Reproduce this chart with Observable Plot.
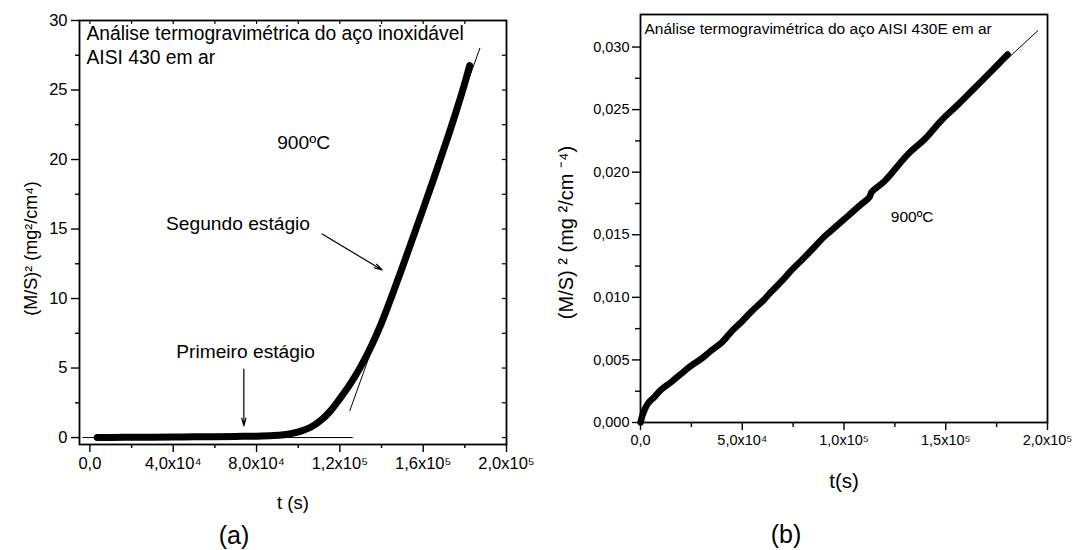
<!DOCTYPE html>
<html>
<head>
<meta charset="utf-8">
<script src="https://cdn.jsdelivr.net/npm/d3@7"></script>
<script src="https://cdn.jsdelivr.net/npm/@observablehq/plot@0.6"></script>
<style>
  body { margin: 0; background: #fff; }
  #wrap { position: relative; width: 1074px; height: 550px; overflow: hidden; background: #fff; }
  #pa, #pb { position: absolute; top: 0; }
  #pa { left: 0; }
  #pb { left: 530px; }
  #wrap svg { overflow: visible; }
</style>
</head>
<body>
<div id="wrap"><div id="pa"></div><div id="pb"></div></div>
<script>
// ---------- Panel (a): AISI 430 ----------
const tA = [3500, 10000, 20000, 30000, 40000, 50000, 60000, 70000, 80000, 88000, 93000, 97000, 101000, 106000, 111000, 115600, 120000, 125000, 130000, 135000, 140000, 145000, 150000, 155000, 160000, 165000, 170000, 174000, 178000, 180000, 182300];
const vA = [0.00, 0.01, 0.02, 0.03, 0.04, 0.05, 0.06, 0.08, 0.10, 0.14, 0.20, 0.30, 0.45, 0.74, 1.25, 1.94, 2.80, 3.86, 5.10, 6.55, 8.25, 10.2, 12.25, 14.35, 16.45, 18.6, 20.8, 22.6, 24.5, 25.5, 26.75];
const tangentTA = [124800, 187200];
const tangentVA = [1.94, 28.0];
const baseTA = [-3400, 126000];
const baseVA = [0, 0];

const xTicksA = [0, 40000, 80000, 120000, 160000, 200000];
const xTickLabelsA = ["0,0", "4,0x10⁴", "8,0x10⁴", "1,2x10⁵", "1,6x10⁵", "2,0x10⁵"];
const xMinorA = [20000, 60000, 100000, 140000, 180000];
const yTicksA = [0, 5, 10, 15, 20, 25, 30];
const yTickLabelsA = ["0", "5", "10", "15", "20", "25", "30"];
const yMinorA = [2.5, 7.5, 12.5, 17.5, 22.5, 27.5];
const topTicksA = [0, 20000, 40000, 60000, 80000, 100000, 120000, 140000, 160000, 180000];
const rightTicksA = [0, 2.5, 5, 7.5, 10, 12.5, 15, 17.5, 20, 22.5, 25, 27.5];

const titleA = "Análise termogravimétrica do aço inoxidável\nAISI 430 em ar";
const notesA = [
  {t: 102600, v: 21.2, text: "900ºC"},
  {t: 71100, v: 15.4, text: "Segundo estágio"},
  {t: 74700, v: 6.17, text: "Primeiro estágio"}
];
const arrowsA = [
  {t1: 111500, v1: 14.64, t2: 140300, v2: 12.05},
  {t1: 73900, v1: 4.92, t2: 73900, v2: 0.84}
];
const yLabelA = "(M/S)² (mg²/cm⁴)";
const xLabelA = "t (s)";
const captionA = "(a)";

// ---------- Panel (b): AISI 430E ----------
const tB = [0, 1000, 2500, 4000, 6600, 10000, 14800, 20000, 24600, 30000, 34400, 40000, 44300, 50000, 54100, 60000, 64000, 70000, 73800, 80000, 83600, 90000, 93500, 98400, 104000, 108200, 112500, 113500, 120000, 131200, 140000, 147600, 156000, 164000, 172000, 180400];
const vB = [0, 0.0006, 0.0012, 0.0016, 0.0020, 0.0026, 0.0032, 0.0039, 0.0045, 0.0051, 0.0057, 0.0064, 0.0072, 0.0081, 0.0088, 0.0097, 0.0104, 0.0114, 0.0121, 0.0131, 0.0137, 0.0148, 0.0153, 0.0160, 0.0168, 0.0174, 0.0180, 0.0184, 0.0193, 0.0214, 0.0227, 0.0241, 0.0254, 0.0267, 0.0280, 0.0294];
const fitTB = [150000, 195200];
const fitVB = [0.0245, 0.0313];

const xTicksB = [0, 50000, 100000, 150000, 200000];
const xTickLabelsB = ["0,0", "5,0x10⁴", "1,0x10⁵", "1,5x10⁵", "2,0x10⁵"];
const xMinorB = [25000, 75000, 125000, 175000];
const yTicksB = [0, 0.005, 0.010, 0.015, 0.020, 0.025, 0.030];
const yTickLabelsB = ["0,000", "0,005", "0,010", "0,015", "0,020", "0,025", "0,030"];
const yMinorB = [0.0025, 0.0075, 0.0125, 0.0175, 0.0225, 0.0275];

const titleB = "Análise termogravimétrica do aço AISI 430E em ar";
const notesB = [{t: 133500, v: 0.0164, text: "900ºC"}];
const yLabelB = "(M/S) ² (mg ²/cm ⁻⁴)";
const xLabelB = "t(s)";
const captionB = "(b)";

const FONT = "'Liberation Sans', Arial, Helvetica, sans-serif";
const lookup = (ticks, labels) => d => labels[ticks.indexOf(d)];
const rows = (ts, vs) => ts.map((t, i) => ({t, v: vs[i]}));

// ---------- Build (a) ----------
const plotA = Plot.plot({
  width: 530, height: 550,
  marginLeft: 79, marginRight: 24, marginTop: 20, marginBottom: 106,
  style: {fontFamily: FONT, fontSize: "16.5px", color: "#000", background: "transparent", overflow: "visible"},
  x: {domain: [-5000, 200000]},
  y: {domain: [-0.5, 30]},
  marks: [
    Plot.axisY({ticks: yTicksA, tickSize: 8, tickPadding: 4, strokeWidth: 1.4, fontSize: 16.5, label: null, tickFormat: lookup(yTicksA, yTickLabelsA)}),
    Plot.axisY({ticks: yMinorA, tickSize: 4, strokeWidth: 1.4, label: null, tickFormat: () => ""}),
    Plot.axisX({ticks: xTicksA, tickSize: 8, tickPadding: 5, strokeWidth: 1.4, fontSize: 16.5, label: null, tickFormat: lookup(xTicksA, xTickLabelsA)}),
    Plot.axisX({ticks: xMinorA, tickSize: 4, strokeWidth: 1.4, label: null, tickFormat: () => ""}),
    Plot.ruleX(topTicksA, {x: d => d, y1: 30, y2: 29.72, stroke: "#000", strokeWidth: 1.2}),
    Plot.ruleY(rightTicksA, {y: d => d, x1: 200000, x2: 198000, stroke: "#000", strokeWidth: 1.2}),
    Plot.line(rows(baseTA, baseVA), {x: "t", y: "v", stroke: "#000", strokeWidth: 1}),
    Plot.line(rows(tangentTA, tangentVA), {x: "t", y: "v", stroke: "#000", strokeWidth: 1}),
    Plot.line(rows(tA, vA), {x: "t", y: "v", stroke: "#000", strokeWidth: 7, strokeLinecap: "round", strokeLinejoin: "round", curve: "catmull-rom"}),
    Plot.arrow(arrowsA, {x1: "t1", y1: "v1", x2: "t2", y2: "v2", stroke: "#000", strokeWidth: 1.2, headLength: 10, headAngle: 30}),
    Plot.text(notesA, {x: "t", y: "v", text: "text", textAnchor: "middle", fontSize: 19.2, fill: "#000"}),
    Plot.text([titleA], {frameAnchor: "top-left", textAnchor: "start", lineAnchor: "top", dx: 7, dy: 2, lineHeight: 1.25, fontSize: 19.3, fill: "#000"}),
    Plot.text([yLabelA], {frameAnchor: "left", textAnchor: "middle", lineAnchor: "middle", rotate: -90, dx: -48, dy: 16, fontSize: 18, fill: "#000"}),
    Plot.text([xLabelA], {frameAnchor: "bottom", textAnchor: "middle", lineAnchor: "middle", dy: 59, fontSize: 18.5, fill: "#000"}),
    Plot.text([captionA], {frameAnchor: "bottom", textAnchor: "middle", lineAnchor: "middle", dx: -59, dy: 91, fontSize: 25, fill: "#000"}),
    Plot.frame({stroke: "#000", strokeWidth: 1.8})
  ]
});
document.getElementById("pa").appendChild(plotA);

// ---------- Build (b) ----------
const plotB = Plot.plot({
  width: 544, height: 550,
  marginLeft: 110, marginRight: 27, marginTop: 14, marginBottom: 128,
  style: {fontFamily: FONT, fontSize: "14.5px", color: "#000", background: "transparent", overflow: "visible"},
  x: {domain: [0, 200000]},
  y: {domain: [0, 0.0326]},
  marks: [
    Plot.axisY({ticks: yTicksB, tickSize: 8, tickPadding: 3, strokeWidth: 1.4, fontSize: 14.5, label: null, tickFormat: lookup(yTicksB, yTickLabelsB)}),
    Plot.axisY({ticks: yMinorB, tickSize: 5, strokeWidth: 1.4, label: null, tickFormat: () => ""}),
    Plot.axisX({ticks: xTicksB, tickSize: 8, tickPadding: 4, strokeWidth: 1.4, fontSize: 14.5, label: null, tickFormat: lookup(xTicksB, xTickLabelsB)}),
    Plot.axisX({ticks: xMinorB, tickSize: 5, strokeWidth: 1.4, label: null, tickFormat: () => ""}),
    Plot.line(rows(fitTB, fitVB), {x: "t", y: "v", stroke: "#000", strokeWidth: 1}),
    Plot.line(rows(tB, vB), {x: "t", y: "v", stroke: "#000", strokeWidth: 6.5, strokeLinecap: "round", strokeLinejoin: "round", curve: "catmull-rom"}),
    Plot.text(notesB, {x: "t", y: "v", text: "text", textAnchor: "middle", fontSize: 15.5, fill: "#000"}),
    Plot.text([titleB], {frameAnchor: "top-left", textAnchor: "start", lineAnchor: "top", dx: 4, dy: 8, fontSize: 15.5, fill: "#000"}),
    Plot.text([yLabelB], {frameAnchor: "left", textAnchor: "middle", lineAnchor: "middle", rotate: -90, dx: -74, dy: 14, fontSize: 20, fill: "#000"}),
    Plot.text([xLabelB], {frameAnchor: "bottom", textAnchor: "middle", lineAnchor: "middle", dy: 59, fontSize: 20.5, fill: "#000"}),
    Plot.text([captionB], {frameAnchor: "bottom", textAnchor: "middle", lineAnchor: "middle", dx: -58, dy: 112, fontSize: 25, fill: "#000"}),
    Plot.frame({stroke: "#000", strokeWidth: 1.8})
  ]
});
document.getElementById("pb").appendChild(plotB);
</script>
</body>
</html>
